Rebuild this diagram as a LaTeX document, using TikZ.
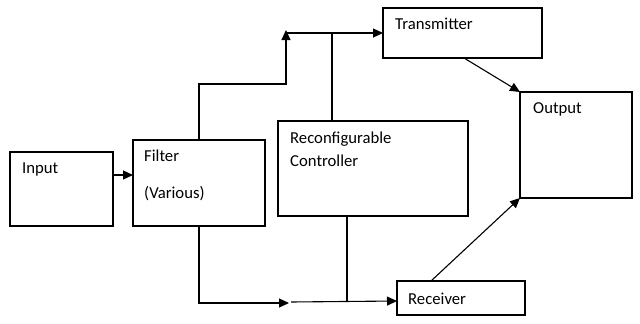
\documentclass[tikz,border=0pt]{standalone}
\usepackage{fontspec}
\setmainfont{Carlito}
\usetikzlibrary{arrows.meta}
\begin{document}
\begin{tikzpicture}[x=1pt,y=-1pt,
  box/.style={draw,line width=1.4pt,inner sep=0pt,minimum width=#1},
  lbl/.style={anchor=base west,inner sep=0pt,font=\fontsize{16.7}{19}\selectfont},
  wire/.style={line width=1.1pt},
  arr/.style={wire,-{Triangle[length=10pt,width=9pt]}}]
\useasboundingbox[fill=white] (0,0) rectangle (640,324);
% boxes
\node[box=103pt,minimum height=74pt] (inp) at (61.5,189) {};
\node[box=132pt,minimum height=86pt] (fil) at (199,183) {};
\node[box=190pt,minimum height=95pt] (ctl) at (373,168.5) {};
\node[box=159pt,minimum height=50pt] (tx) at (462.5,33) {};
\node[box=112pt,minimum height=106pt] (out) at (576,145) {};
\node[box=128pt,minimum height=34pt] (rx) at (461,298) {};
% labels
\node[lbl] (tinp) at (22,173) {Input};
\node[lbl] (tfil1) at (144,161) {Filter};
\node[lbl] (tfil2) at (144,198) {(Various)};
\node[lbl] (tctl1) at (290,143) {Reconfigurable};
\node[lbl] (tctl2) at (290,166) {Controller};
\node[lbl] (ttx) at (395,29) {Transmitter};
\node[lbl] (tout) at (533,113) {Output};
\node[lbl] (trx) at (408,304) {Receiver};
% coordinates
\coordinate (ftop) at (199,140);
\coordinate (fbot) at (199,226);
\coordinate (up1) at (199,84);
\coordinate (up2) at (286,84);
\coordinate (upTip) at (286,30);
\coordinate (upJ) at (286,33);
\coordinate (txIn) at (383,33);
\coordinate (ctlTop) at (332,121);
\coordinate (ctlUp) at (332,33);
\coordinate (dn1) at (199,303);
\coordinate (dnTip) at (289,303);
\coordinate (dnJ) at (291,302);
\coordinate (rxIn) at (397,301);
\coordinate (ctlBot) at (347,216);
\coordinate (ctlDn) at (347,301.5);
\coordinate (inR) at (113,175);
\coordinate (filL) at (133,175);
\coordinate (txB) at (464,58);
\coordinate (outTL) at (520,92);
\coordinate (rxT) at (431,281);
\coordinate (outBL) at (520,198);
% connectors
\draw[arr] (inR) -- (filL);
\draw[arr] (ftop) -- (up1) -- (up2) -- (upTip);
\draw[arr] (upJ) -- (txIn);
\draw[wire] (ctlTop) -- (ctlUp);
\draw[arr] (fbot) -- (dn1) -- (dnTip);
\draw[arr] (dnJ) -- (rxIn);
\draw[wire] (ctlBot) -- (ctlDn);
\draw[arr] (txB) -- (outTL);
\draw[arr] (rxT) -- (outBL);
\end{tikzpicture}
\end{document}
